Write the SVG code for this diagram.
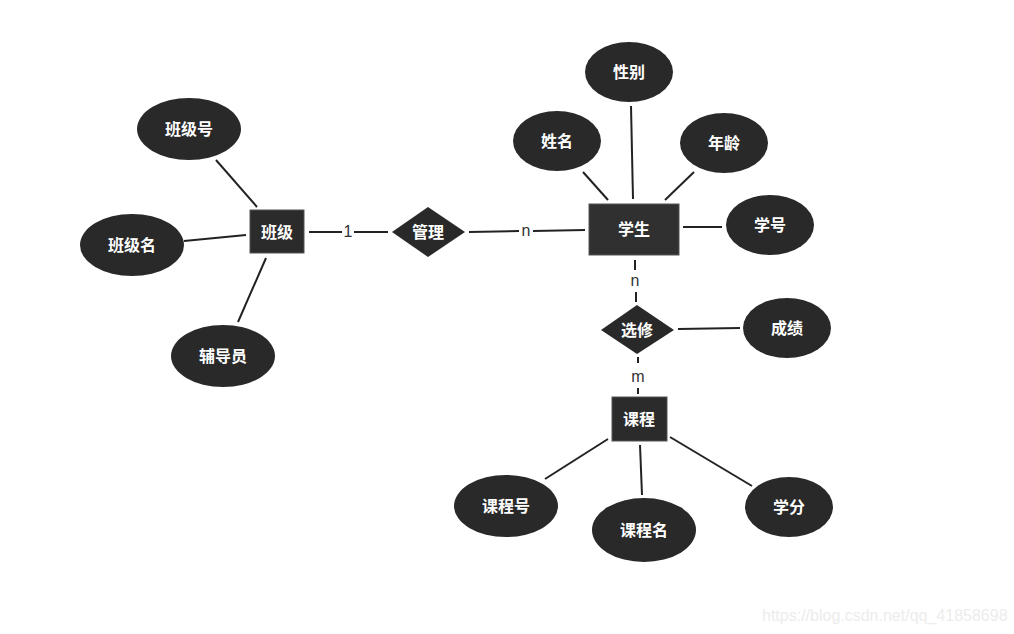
<svg xmlns="http://www.w3.org/2000/svg" width="1014" height="634" viewBox="0 0 1014 634">
<style>
.n{fill:#292929;}
.r{fill:#2b2b2b;stroke:#555;stroke-width:1;}
.t{fill:#fff;font-family:"Noto Sans CJK SC","Liberation Sans",sans-serif;font-weight:bold;font-size:16px;text-anchor:middle;dominant-baseline:central;}
.c line{stroke:#222;stroke-width:2;}
.l{fill:#333;font-family:"Liberation Sans","DejaVu Sans",sans-serif;font-size:16px;text-anchor:middle;dominant-baseline:central;}
.w{fill:#ececec;font-family:"Liberation Sans",sans-serif;font-size:16px;}
</style>
<rect width="1014" height="634" fill="#fff"/>
<g id="connectors" class="c">
<line x1="216" y1="160" x2="257" y2="207"/>
<line x1="184" y1="241" x2="246" y2="235"/>
<line x1="238" y1="322" x2="266" y2="258"/>
<line x1="309" y1="232" x2="342" y2="232"/>
<line x1="354" y1="232" x2="388" y2="232"/>
<line x1="469" y1="232" x2="519" y2="231"/>
<line x1="533" y1="231" x2="585" y2="230"/>
<line x1="631" y1="106" x2="633" y2="199"/>
<line x1="583" y1="172" x2="608" y2="200"/>
<line x1="694" y1="172" x2="665" y2="200"/>
<line x1="683" y1="227" x2="722" y2="227"/>
<line x1="635" y1="260" x2="635" y2="270"/>
<line x1="636" y1="292" x2="636" y2="302"/>
<line x1="678" y1="329" x2="740" y2="328"/>
<line x1="638" y1="357" x2="638" y2="363"/>
<line x1="638" y1="388" x2="638" y2="394"/>
<line x1="608" y1="439" x2="545" y2="479"/>
<line x1="640" y1="445" x2="642" y2="495"/>
<line x1="670" y1="437" x2="752" y2="486"/>
<text class="l" x="348" y="231">1</text>
<text class="l" x="526" y="230">n</text>
<text class="l" x="635" y="280">n</text>
<text class="l" x="638" y="376">m</text>
</g>
<g id="banji"><rect class="r" x="250" y="210" width="54" height="43"/><text class="t" x="277" y="231">班级</text></g>
<g id="banjihao"><ellipse class="n" cx="189" cy="129" rx="52" ry="31"/><text class="t" x="189" y="128">班级号</text></g>
<g id="banjiming"><ellipse class="n" cx="132" cy="245" rx="52" ry="31"/><text class="t" x="132" y="244">班级名</text></g>
<g id="fudaoyuan"><ellipse class="n" cx="223" cy="356" rx="52" ry="31"/><text class="t" x="223" y="355">辅导员</text></g>
<g id="guanli"><polygon class="n" points="392,232 428,207 465,232 428,257"/><text class="t" x="428" y="231">管理</text></g>
<g id="xuesheng"><rect class="r" x="589" y="204" width="90" height="51" style="fill:#303030"/><text class="t" x="634" y="228">学生</text></g>
<g id="xingbie"><ellipse class="n" cx="629" cy="72" rx="44" ry="30"/><text class="t" x="629" y="71">性别</text></g>
<g id="xingming"><ellipse class="n" cx="557" cy="141" rx="44" ry="30"/><text class="t" x="557" y="140">姓名</text></g>
<g id="nianling"><ellipse class="n" cx="724" cy="143" rx="44" ry="30"/><text class="t" x="724" y="142">年龄</text></g>
<g id="xuehao"><ellipse class="n" cx="770" cy="225" rx="44" ry="30"/><text class="t" x="770" y="224">学号</text></g>
<g id="xuanxiu"><polygon class="n" points="601,330 637,305 674,330 637,354"/><text class="t" x="637" y="329">选修</text></g>
<g id="chengji"><ellipse class="n" cx="787" cy="328" rx="44" ry="30"/><text class="t" x="787" y="327">成绩</text></g>
<g id="kecheng"><rect class="r" x="612" y="397" width="55" height="44"/><text class="t" x="639" y="418">课程</text></g>
<g id="kechenghao"><ellipse class="n" cx="506" cy="506" rx="52" ry="31"/><text class="t" x="506" y="505">课程号</text></g>
<g id="kechengming"><ellipse class="n" cx="644" cy="530" rx="52" ry="32"/><text class="t" x="644" y="529">课程名</text></g>
<g id="xuefen"><ellipse class="n" cx="789" cy="507" rx="44" ry="30"/><text class="t" x="789" y="506">学分</text></g>
<text class="w" x="762" y="621">https://blog.csdn.net/qq_41858698</text>
</svg>
